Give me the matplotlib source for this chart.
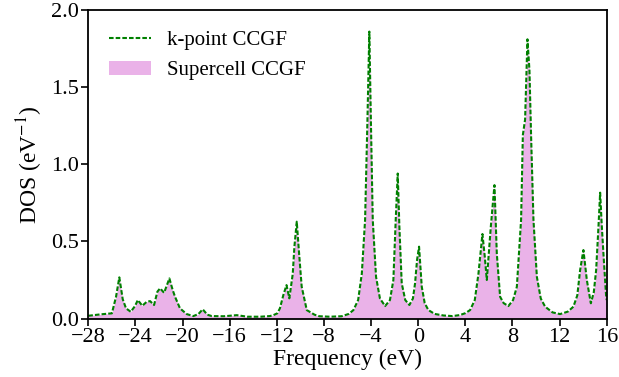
import matplotlib
matplotlib.use("Agg")
import matplotlib.pyplot as plt
from matplotlib.ticker import FormatStrFormatter

# DOS curve (eV, 1/eV)
freq = [
    -28.0, -27.0, -26.0, -25.65, -25.37, -25.08, -24.8, -24.4, -24.04, -23.8,
    -23.42, -23.04, -22.76, -22.42, -22.14, -21.91, -21.57, -21.12, -20.84, -20.64,
    -20.22, -19.65, -19.09, -18.66, -18.29, -17.9, -17.52, -16.5, -15.4, -14.5,
    -13.4, -12.6, -12.3, -11.96, -11.74, -11.45, -11.18, -10.94, -10.65, -10.51,
    -10.31, -10.11, -9.89, -9.46, -8.8, -8.39, -7.5, -6.5, -5.9, -5.5,
    -5.1, -4.79, -4.51, -4.31, -4.15, -4.02, -3.86, -3.58, -3.25, -2.81,
    -2.4, -2.11, -1.91, -1.74, -1.60, -1.40, -1.1, -0.75, -0.45, -0.27,
    -0.1, 0.07, 0.30, 0.55, 0.86, 1.4, 2.14, 2.9, 3.55, 4.0,
    4.40, 4.8, 5.11, 5.45, 5.65, 5.82, 6.16, 6.47, 6.67, 6.95,
    7.25, 7.65, 8.05, 8.37, 8.73, 8.88, 9.07, 9.27, 9.44, 9.58,
    9.78, 10.07, 10.4, 10.77, 11.4, 12.04, 12.7, 13.17, 13.5, 13.74,
    14.02, 14.31, 14.65, 14.9, 15.1, 15.3, 15.44, 15.58, 15.72, 15.95,
    16.0,
]
dos = [
    0.018, 0.027, 0.034, 0.141, 0.267, 0.125, 0.066, 0.044, 0.081, 0.12,
    0.083, 0.109, 0.113, 0.088, 0.174, 0.196, 0.167, 0.26, 0.185, 0.141,
    0.066, 0.029, 0.016, 0.029, 0.06, 0.025, 0.016, 0.015, 0.022, 0.012,
    0.012, 0.016, 0.022, 0.034, 0.066, 0.152, 0.217, 0.131, 0.29, 0.466,
    0.628, 0.42, 0.206, 0.055, 0.025, 0.015, 0.012, 0.015, 0.03, 0.055,
    0.12, 0.29, 0.64, 1.29, 1.86, 1.29, 0.64, 0.27, 0.13, 0.081,
    0.12, 0.25, 0.64, 0.94, 0.595, 0.228, 0.12, 0.088, 0.13, 0.228,
    0.38, 0.466, 0.206, 0.1, 0.055, 0.03, 0.02, 0.016, 0.023, 0.035,
    0.055, 0.12, 0.29, 0.548, 0.4, 0.25, 0.595, 0.865, 0.42, 0.141,
    0.1, 0.081, 0.12, 0.206, 0.64, 1.19, 1.29, 1.81, 1.61, 1.18,
    0.64, 0.27, 0.13, 0.077, 0.04, 0.029, 0.045, 0.077, 0.15, 0.314,
    0.444, 0.25, 0.099, 0.17, 0.314, 0.6, 0.816, 0.6, 0.42, 0.141,
    0.12,
]

xticks = list(range(-28, 17, 4))
yticks = [0.0, 0.5, 1.0, 1.5, 2.0]

plt.rcParams['font.family'] = ['Liberation Serif', 'DejaVu Serif']
plt.rcParams['mathtext.fontset'] = 'stix'

fig = plt.figure(figsize=(6.19, 3.77), dpi=100)
ax = fig.add_axes([0.1427, 0.155, 0.8375, 0.8185])

ax.fill_between(freq, dos, 0, color='#eab2e8', linewidth=0, label='Supercell CCGF')
ax.plot(freq, dos, color='green', linewidth=1.5, linestyle=(0, (2.2, 1.0)),
        label='k-point CCGF')

ax.set_xlim(-28, 16)
ax.set_ylim(0, 2.0)
ax.set_xticks(xticks)
ax.set_yticks(yticks)
ax.yaxis.set_major_formatter(FormatStrFormatter('%.1f'))
ax.tick_params(labelsize=16, direction='out', width=1.2, length=5, pad=2)
for s in ax.spines.values():
    s.set_linewidth(1.3)

ax.set_xlabel('Frequency (eV)', fontsize=17, labelpad=1)
ax.set_ylabel('DOS (eV$^{-1}$)', fontsize=17, labelpad=4)

h, l = ax.get_legend_handles_labels()
ax.legend(h[::-1], l[::-1], loc='upper left', frameon=False, fontsize=15,
          borderaxespad=0.6)

fig.savefig('out.png', dpi=100)
